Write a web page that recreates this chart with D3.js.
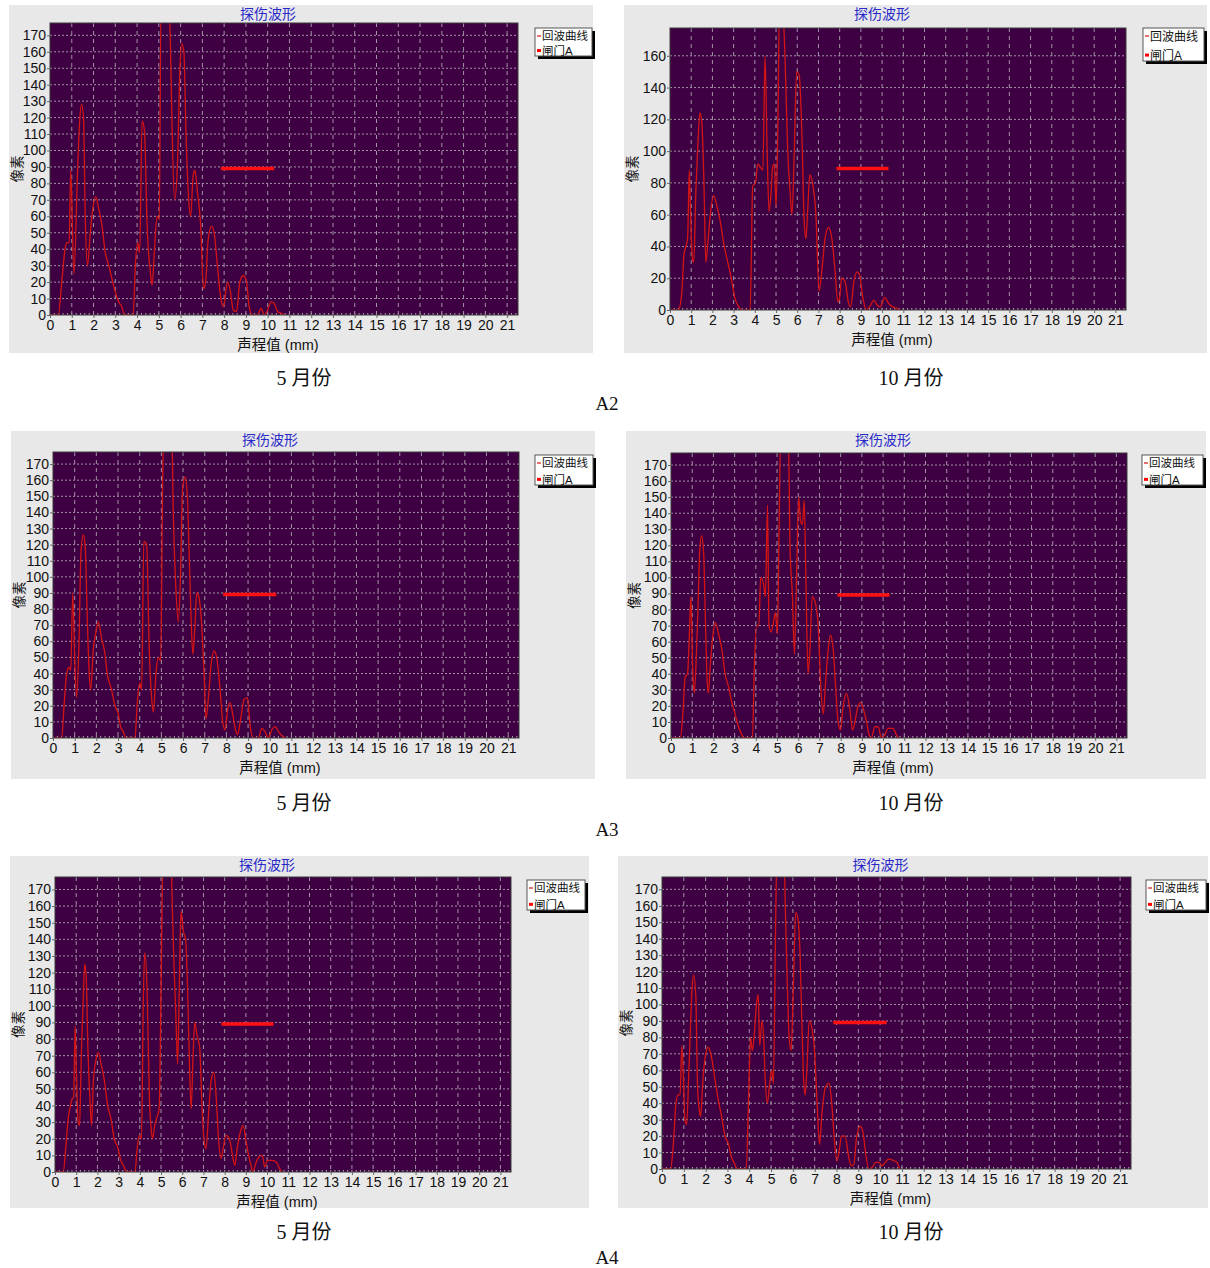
<!DOCTYPE html>
<html>
<head>
<meta charset="utf-8">
<script src="https://cdn.jsdelivr.net/npm/d3@7"></script>
<style>
  body { margin: 0; background: #fff; }
  svg { display: block; }
</style>
</head>
<body>
<script>
// waveform readings, [声程 mm, 像素]
var a2May = [[0,0],[0.38,0],[0.54,20],[0.69,40],[0.77,44],[0.88,44],[0.95,88],[1.1,25],[1.26,85],[1.35,115],[1.45,128],[1.54,120],[1.62,60],[1.72,30],[1.85,50],[1.97,65],[2.1,72],[2.23,65],[2.38,55],[2.54,38],[2.7,30],[2.92,18],[3.15,8],[3.3,5],[3.42,0],[3.82,0],[3.92,30],[4.03,44],[4.12,38],[4.23,118],[4.34,112],[4.46,55],[4.62,25],[4.69,18],[4.8,40],[4.92,60],[5.02,58],[5.1,190],[5.46,190],[5.54,160],[5.6,120],[5.72,70],[5.85,90],[5.97,150],[6.05,165],[6.15,160],[6.25,110],[6.35,75],[6.46,60],[6.58,85],[6.66,88],[6.77,75],[6.92,55],[7.05,16],[7.15,20],[7.26,45],[7.42,54],[7.54,50],[7.69,30],[7.85,10],[7.97,5],[8.15,20],[8.28,15],[8.42,3],[8.57,2],[8.72,20],[8.88,24],[9.03,20],[9.15,5],[9.31,0],[9.54,0],[9.69,4],[9.85,0],[10.0,3],[10.15,8],[10.3,7],[10.46,2],[10.62,1],[10.8,0]];
var a2Oct = [[0,0],[0.39,0],[0.55,10],[0.66,35],[0.75,40],[0.83,45],[0.91,88],[0.97,60],[1.06,32],[1.12,30],[1.22,75],[1.3,100],[1.41,124],[1.5,118],[1.6,80],[1.69,30],[1.8,45],[1.9,60],[2.06,72],[2.22,65],[2.38,55],[2.53,42],[2.69,32],[2.89,20],[3.05,8],[3.25,2],[3.36,0],[3.78,0],[3.9,78],[4.03,80],[4.14,92],[4.25,90],[4.38,88],[4.48,160],[4.58,100],[4.67,62],[4.77,75],[4.84,90],[4.92,92],[5.0,65],[5.09,120],[5.16,190],[5.31,190],[5.42,160],[5.55,100],[5.66,75],[5.75,60],[5.86,100],[5.97,150],[6.09,148],[6.22,110],[6.33,55],[6.41,45],[6.5,65],[6.59,85],[6.72,80],[6.88,60],[7.03,12],[7.16,25],[7.31,45],[7.47,52],[7.63,45],[7.78,25],[7.91,5],[8.0,8],[8.09,20],[8.25,18],[8.41,5],[8.52,2],[8.67,18],[8.83,24],[8.94,22],[9.09,8],[9.25,0],[9.41,2],[9.61,6],[9.77,3],[9.92,2],[10.12,8],[10.31,4],[10.5,2],[10.7,1],[10.85,0]];
var a3May = [[0,0],[0.4,0],[0.51,20],[0.63,40],[0.74,44],[0.82,42],[0.91,90],[1.0,50],[1.09,25],[1.2,60],[1.29,115],[1.4,126],[1.49,118],[1.58,75],[1.67,40],[1.74,30],[1.86,55],[1.97,65],[2.09,72],[2.24,62],[2.4,52],[2.5,40],[2.7,30],[2.86,20],[3.01,15],[3.12,7],[3.24,4],[3.36,0],[3.78,0],[3.89,22],[4.0,34],[4.09,30],[4.19,122],[4.32,120],[4.44,55],[4.55,25],[4.63,16],[4.75,40],[4.86,50],[4.97,48],[5.06,160],[5.12,190],[5.48,190],[5.55,140],[5.68,90],[5.78,72],[5.88,100],[5.98,155],[6.09,162],[6.2,150],[6.28,115],[6.37,75],[6.45,52],[6.55,70],[6.63,90],[6.72,88],[6.86,70],[6.97,40],[7.06,12],[7.17,25],[7.29,45],[7.43,54],[7.55,50],[7.71,30],[7.83,10],[7.94,5],[8.06,18],[8.17,22],[8.29,15],[8.42,5],[8.51,2],[8.66,12],[8.82,24],[8.97,25],[9.09,8],[9.25,0],[9.48,0],[9.63,6],[9.78,4],[9.94,0],[10.09,5],[10.25,7],[10.4,4],[10.6,1],[10.75,0]];
var a3Oct = [[0,0],[0.44,0],[0.56,15],[0.67,38],[0.78,40],[0.86,62],[0.94,88],[1.03,40],[1.1,28],[1.19,50],[1.27,80],[1.35,115],[1.44,126],[1.54,115],[1.61,80],[1.69,40],[1.76,28],[1.85,45],[1.96,62],[2.08,72],[2.24,65],[2.4,55],[2.55,40],[2.71,32],[2.87,22],[3.02,15],[3.18,7],[3.34,2],[3.42,0],[3.84,0],[3.93,45],[4.04,70],[4.14,70],[4.23,100],[4.36,96],[4.45,88],[4.55,145],[4.62,70],[4.72,66],[4.83,72],[4.92,78],[5.02,65],[5.09,125],[5.17,190],[5.53,190],[5.61,120],[5.72,90],[5.82,52],[5.92,100],[6.02,150],[6.11,135],[6.2,133],[6.28,148],[6.36,100],[6.46,40],[6.55,55],[6.66,88],[6.79,85],[6.94,70],[7.07,30],[7.18,15],[7.29,35],[7.41,55],[7.52,64],[7.65,55],[7.77,30],[7.88,10],[7.99,5],[8.12,20],[8.27,28],[8.43,18],[8.56,5],[8.67,10],[8.78,18],[8.93,22],[9.09,17],[9.22,10],[9.34,2],[9.45,0],[9.61,7],[9.77,7],[9.92,0],[10.08,2],[10.24,6],[10.47,6],[10.63,2],[10.75,0]];
var a4May = [[0,0],[0.39,0],[0.51,15],[0.62,32],[0.73,40],[0.81,44],[0.88,45],[0.95,88],[1.01,60],[1.09,30],[1.16,28],[1.24,70],[1.32,100],[1.4,125],[1.47,118],[1.55,75],[1.66,40],[1.72,28],[1.81,55],[1.94,68],[2.05,72],[2.17,65],[2.33,55],[2.48,40],[2.64,32],[2.79,20],[2.95,15],[3.1,7],[3.26,3],[3.36,0],[3.77,0],[3.88,15],[3.98,22],[4.08,20],[4.16,100],[4.23,132],[4.34,110],[4.45,45],[4.54,25],[4.6,20],[4.7,28],[4.81,33],[4.91,38],[5.01,120],[5.09,190],[5.47,190],[5.53,160],[5.61,125],[5.71,90],[5.78,65],[5.86,110],[5.94,157],[6.05,145],[6.16,140],[6.25,110],[6.33,70],[6.42,38],[6.51,70],[6.59,90],[6.7,82],[6.82,75],[6.93,40],[7.02,20],[7.12,14],[7.24,35],[7.36,55],[7.49,60],[7.6,45],[7.71,20],[7.83,8],[7.94,15],[8.06,22],[8.22,20],[8.37,10],[8.48,4],[8.6,15],[8.76,25],[8.87,28],[8.99,20],[9.1,12],[9.22,5],[9.33,0],[9.46,5],[9.61,9],[9.77,10],[9.89,3],[10.03,7],[10.23,7],[10.43,6],[10.59,2],[10.7,0]];
var a4Oct = [[0,0],[0.39,0],[0.52,15],[0.64,40],[0.73,45],[0.83,45],[0.91,75],[0.97,60],[1.05,30],[1.13,27],[1.22,55],[1.3,85],[1.38,110],[1.45,118],[1.55,105],[1.63,50],[1.72,35],[1.77,32],[1.88,55],[1.98,68],[2.11,74],[2.27,68],[2.42,55],[2.58,42],[2.73,32],[2.89,20],[3.05,15],[3.17,8],[3.33,3],[3.44,0],[3.86,0],[3.98,48],[4.06,80],[4.14,72],[4.22,80],[4.33,100],[4.41,106],[4.48,75],[4.58,90],[4.66,80],[4.73,55],[4.83,40],[4.92,50],[5.03,60],[5.11,52],[5.19,130],[5.27,190],[5.59,190],[5.67,150],[5.75,110],[5.83,80],[5.92,72],[6.02,110],[6.13,156],[6.25,150],[6.33,130],[6.41,90],[6.48,58],[6.56,45],[6.64,60],[6.75,90],[6.88,85],[7.0,70],[7.11,40],[7.22,15],[7.34,35],[7.5,50],[7.66,52],[7.78,40],[7.89,20],[8.02,5],[8.13,12],[8.23,20],[8.39,20],[8.55,8],[8.67,2],[8.8,3],[8.91,18],[9.09,26],[9.22,22],[9.33,10],[9.48,0],[9.64,1],[9.8,4],[9.95,4],[10.08,2],[10.23,4],[10.39,6],[10.63,5],[10.78,4],[10.89,0]];

var xTicks = d3.range(0, 22);
var yTicks10 = d3.range(0, 171, 10);
var yTicks20 = d3.range(0, 161, 20);
var gateX = [7.85, 10.3];
var gateLevel = 89;
var legendNames = ["回波曲线", "闸门A"];
var captions = ["5 月份", "10 月份"];
var groupNames = ["A2", "A3", "A4"];

var W = 1210, H = 1268;
var svg = d3.select("body").append("svg").attr("width", W).attr("height", H);

// layout of each screenshot: gray box, plot area, legend box
var panels = [
  {data: a2May, box: [9, 5, 584, 348],   plot: [50, 23, 468, 292],   yt: yTicks10, leg: [535, 28, 57, 28, 11.5]},
  {data: a2Oct, box: [624, 5, 583, 348], plot: [670, 28, 456, 282],  yt: yTicks20, leg: [1143, 28, 61, 33, 12]},
  {data: a3May, box: [11, 431, 584, 348], plot: [53, 452, 466, 286], yt: yTicks10, leg: [535, 455, 58, 30, 11.5]},
  {data: a3Oct, box: [626, 431, 580, 348], plot: [671, 453, 456, 285], yt: yTicks10, leg: [1142, 455, 61, 30, 11.5]},
  {data: a4May, box: [10, 856, 579, 352], plot: [55, 877, 456, 295], yt: yTicks10, leg: [527, 880, 58, 30, 11.5]},
  {data: a4Oct, box: [618, 856, 590, 352], plot: [662, 877, 469, 292], yt: yTicks10, leg: [1146, 880, 60, 30, 11.5]}
];

var sans = "'Liberation Sans', Arial, 'Noto Sans CJK SC', sans-serif";

panels.forEach(function(p, i) {
  var g = svg.append("g");
  var px = p.plot[0], py = p.plot[1], pw = p.plot[2], ph = p.plot[3];

  g.append("rect").attr("x", p.box[0]).attr("y", p.box[1])
    .attr("width", p.box[2]).attr("height", p.box[3]).attr("fill", "#e8e8e8");

  var x = d3.scaleLinear().domain([0, 21.5]).range([px, px + pw]);
  var y = d3.scaleLinear().domain([0, 177.5]).range([py + ph, py]);

  g.append("rect").attr("x", px).attr("y", py).attr("width", pw).attr("height", ph)
    .attr("fill", "#3e0042");

  // grid
  g.selectAll(".vg").data(xTicks.slice(1)).enter().append("line")
    .attr("x1", function(d) { return x(d); }).attr("x2", function(d) { return x(d); })
    .attr("y1", py).attr("y2", py + ph)
    .attr("stroke", "#a394a6").attr("stroke-width", 1).attr("stroke-dasharray", "4,4");
  g.selectAll(".hg").data(p.yt.slice(1)).enter().append("line")
    .attr("x1", px).attr("x2", px + pw)
    .attr("y1", function(d) { return y(d); }).attr("y2", function(d) { return y(d); })
    .attr("stroke", "#a394a6").attr("stroke-width", 1).attr("stroke-dasharray", "2,2");

  // small ticks along the bottom edge
  g.selectAll(".mt").data(d3.range(0, 21.5, 0.2)).enter().append("line")
    .attr("x1", function(d) { return x(d); }).attr("x2", function(d) { return x(d); })
    .attr("y1", py + ph).attr("y2", py + ph - 2)
    .attr("stroke", "#b0a8b2").attr("stroke-width", 1);

  var clipId = "clip" + i;
  g.append("clipPath").attr("id", clipId).append("rect")
    .attr("x", px).attr("y", py).attr("width", pw).attr("height", ph);

  var line = d3.line()
    .x(function(d) { return x(d[0]); })
    .y(function(d) { return y(d[1]); })
    .curve(d3.curveMonotoneX);

  g.append("path").datum(p.data)
    .attr("clip-path", "url(#" + clipId + ")")
    .attr("d", line).attr("fill", "none")
    .attr("stroke", "#d41414").attr("stroke-width", 1.3);

  // gate A
  g.append("line")
    .attr("x1", x(gateX[0])).attr("x2", x(gateX[1]))
    .attr("y1", y(gateLevel)).attr("y2", y(gateLevel))
    .attr("stroke", "#ff1010").attr("stroke-width", 3.5);

  // frame
  g.append("rect").attr("x", px).attr("y", py).attr("width", pw).attr("height", ph)
    .attr("fill", "none").attr("stroke", "#3a3a3a").attr("stroke-width", 1);

  // axes
  var ya = g.append("g").attr("transform", "translate(" + px + ",0)")
    .call(d3.axisLeft(y).tickValues(p.yt).tickSize(3).tickPadding(1));
  var xa = g.append("g").attr("transform", "translate(0," + (py + ph) + ")")
    .call(d3.axisBottom(x).tickValues(xTicks).tickSize(3).tickPadding(2));
  [ya, xa].forEach(function(a) {
    a.select(".domain").remove();
    a.selectAll(".tick line").attr("stroke", "#666");
    a.selectAll("text").attr("fill", "#111").style("font-family", sans).style("font-size", "14px");
  });

  var cx = px + pw / 2;
  g.append("text").attr("x", cx - 16).attr("y", p.box[1] + 14)
    .attr("text-anchor", "middle").attr("fill", "#2a2ac8")
    .style("font-family", sans).style("font-size", "14px").text("探伤波形");

  g.append("text").attr("x", cx - 6).attr("y", py + ph + 35)
    .attr("text-anchor", "middle").attr("fill", "#111")
    .style("font-family", sans).style("font-size", "14.5px").text("声程值  (mm)");

  g.append("text")
    .attr("transform", "translate(" + (p.box[0] + 13) + "," + (py + ph / 2) + ") rotate(-90)")
    .attr("text-anchor", "middle").attr("fill", "#111")
    .style("font-family", sans).style("font-size", "13.5px").text("像素");

  // legend
  var L = p.leg;
  g.append("rect").attr("x", L[0] + 3).attr("y", L[1] + 3).attr("width", L[2]).attr("height", L[3])
    .attr("fill", "#000");
  g.append("rect").attr("x", L[0]).attr("y", L[1]).attr("width", L[2]).attr("height", L[3])
    .attr("fill", "#fff").attr("stroke", "#555").attr("stroke-width", 1);
  legendNames.forEach(function(name, k) {
    var ly = L[1] + 8 + k * (L[3] - 12) / 1.1;
    g.append("line").attr("x1", L[0] + 2).attr("x2", L[0] + 6)
      .attr("y1", ly).attr("y2", ly)
      .attr("stroke", k === 0 ? "#e04040" : "#ff0000").attr("stroke-width", k === 0 ? 1.5 : 3);
    g.append("text").attr("x", L[0] + 7).attr("y", ly + L[4] * 0.38)
      .attr("fill", "#111").style("font-family", sans).style("font-size", L[4] + "px").text(name);
  });
});

// captions under each row
var serif = "'Liberation Serif', 'Times New Roman', 'Noto Sans CJK SC', serif";
var rowCapY = [385, 810, 1239];
var rowNameY = [410, 836, 1264];
rowCapY.forEach(function(cy, r) {
  svg.append("text").attr("x", 304).attr("y", cy).attr("text-anchor", "middle")
    .style("font-family", serif).style("font-size", "20px").attr("fill", "#111").text(captions[0]);
  svg.append("text").attr("x", 911).attr("y", cy).attr("text-anchor", "middle")
    .style("font-family", serif).style("font-size", "20px").attr("fill", "#111").text(captions[1]);
  svg.append("text").attr("x", 607).attr("y", rowNameY[r]).attr("text-anchor", "middle")
    .style("font-family", serif).style("font-size", "19px").attr("fill", "#111").text(groupNames[r]);
});
</script>
</body>
</html>
